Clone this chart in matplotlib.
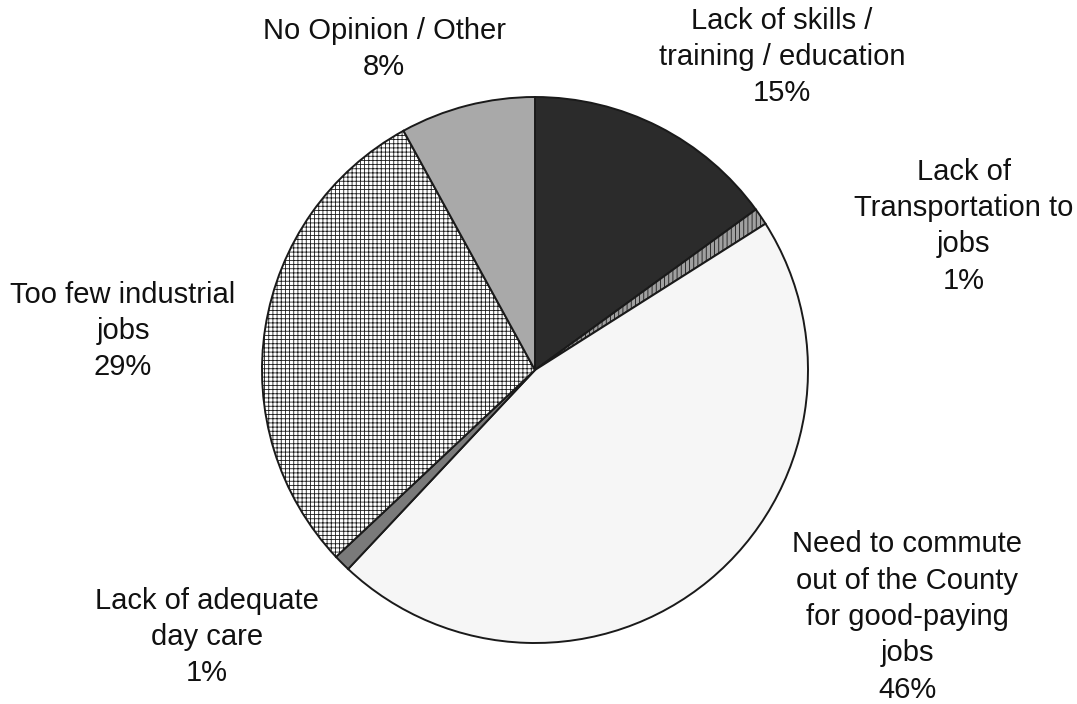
import matplotlib.pyplot as plt

plt.rcParams["font.family"] = ["Liberation Sans", "DejaVu Sans"]
plt.rcParams["hatch.linewidth"] = 0.6

labels = ["Lack of skills /\ntraining / education\n15%",
          "Lack of\nTransportation to\njobs\n1%",
          "Need to commute\nout of the County\nfor good-paying\njobs\n46%",
          "Lack of adequate\nday care\n1%",
          "Too few industrial\njobs\n29%",
          "No Opinion / Other\n8%"]
shares = [15, 1, 46, 1, 29, 8]
colors = ["#2b2b2b", "#a0a0a0", "#f6f6f6", "#7a7a7a", "#ffffff", "#a9a9a9"]
hatches = [None, "||||", None, None, "++++", None]

# label centres, in units of the pie radius
label_x = [0.905, 1.57, 1.363, -1.201, -1.509, -0.553]
label_y = [1.147, 0.527, -0.905, -0.978, 0.143, 1.176]

fig = plt.figure(figsize=(10.77, 7.04), dpi=100)
r = 273
cx, cy = 535, 704 - 370
ax = fig.add_axes([(cx - r) / 1077, (cy - r) / 704, 2 * r / 1077, 2 * r / 704])

wedges, _ = ax.pie(shares, colors=colors, startangle=90, counterclock=False,
                   wedgeprops=dict(edgecolor="#1a1a1a", linewidth=1.4))
for w, h in zip(wedges, hatches):
    if h:
        w.set_hatch(h)

for lab, x, y in zip(labels, label_x, label_y):
    ax.text(x, y, lab, ha="center", va="center", fontsize=21,
            linespacing=1.38, color="#111111")

ax.set_xlim(-1, 1)
ax.set_ylim(-1, 1)
ax.set_aspect("equal")
ax.axis("off")

plt.savefig("out.png", dpi=100)
